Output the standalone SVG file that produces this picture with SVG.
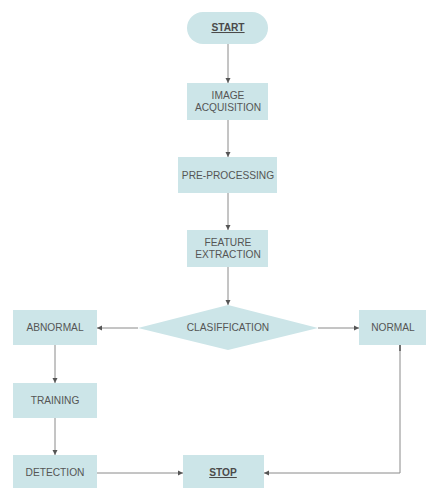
<svg xmlns="http://www.w3.org/2000/svg" width="428" height="488" viewBox="0 0 428 488">
<style>
.n{fill:#cce5e8;stroke:none}
.t{font-family:"Liberation Sans",Arial,sans-serif;font-size:10.2px;fill:#555;text-anchor:middle}
.u{text-decoration:underline;font-weight:bold;fill:#4a4a4a}
.c{fill:none;stroke:#8a8a8a;stroke-width:1}
</style>
<defs>
<marker id="a" markerWidth="6" markerHeight="6" refX="5" refY="3" orient="auto" markerUnits="userSpaceOnUse">
<path d="M0,0.5 L5,3 L0,5.5 Z" fill="#555"/>
</marker>
</defs>
<rect width="428" height="488" fill="#fff"/>
<g id="connectors">
<line class="c" x1="228" y1="44" x2="228" y2="83" marker-end="url(#a)"/>
<line class="c" x1="228" y1="120" x2="228" y2="157" marker-end="url(#a)"/>
<line class="c" x1="228" y1="193" x2="228" y2="230" marker-end="url(#a)"/>
<line class="c" x1="228" y1="267" x2="228" y2="305" marker-end="url(#a)"/>
<line class="c" x1="138" y1="328" x2="97" y2="328" marker-end="url(#a)"/>
<line class="c" x1="318" y1="328" x2="359" y2="328" marker-end="url(#a)"/>
<line class="c" x1="55" y1="345" x2="55" y2="383" marker-end="url(#a)"/>
<line class="c" x1="55" y1="418" x2="55" y2="455" marker-end="url(#a)"/>
<line class="c" x1="97" y1="473" x2="183" y2="473" marker-end="url(#a)"/>
<polyline class="c" points="400,345 400,473 264,473" marker-end="url(#a)"/>
<line x1="400" y1="345" x2="400" y2="351" stroke="#555" stroke-width="1.5"/>
</g>
<g id="start"><rect class="n" x="187" y="12" width="81" height="32" rx="16"/><text class="t u" x="228" y="31">START</text></g>
<g id="image-acquisition"><rect class="n" x="187" y="83" width="81" height="37"/><text class="t" x="228" y="99">IMAGE</text><text class="t" x="228" y="111">ACQUISITION</text></g>
<g id="pre-processing"><rect class="n" x="178" y="157" width="99" height="36"/><text class="t" x="228" y="179">PRE-PROCESSING</text></g>
<g id="feature-extraction"><rect class="n" x="187" y="230" width="81" height="37"/><text class="t" x="228" y="246">FEATURE</text><text class="t" x="228" y="258">EXTRACTION</text></g>
<g id="clasiffication"><polygon class="n" points="228,305 318,328 228,350 138,328"/><text class="t" x="228" y="331">CLASIFFICATION</text></g>
<g id="abnormal"><rect class="n" x="13" y="310" width="84" height="35"/><text class="t" x="55" y="331">ABNORMAL</text></g>
<g id="normal"><rect class="n" x="359" y="310" width="67" height="35"/><text class="t" x="393" y="331">NORMAL</text></g>
<g id="training"><rect class="n" x="13" y="383" width="84" height="35"/><text class="t" x="55" y="404">TRAINING</text></g>
<g id="detection"><rect class="n" x="13" y="455" width="84" height="35"/><text class="t" x="55" y="476">DETECTION</text></g>
<g id="stop"><rect class="n" x="183" y="455" width="81" height="35"/><text class="t u" x="223" y="476">STOP</text></g>
</svg>
